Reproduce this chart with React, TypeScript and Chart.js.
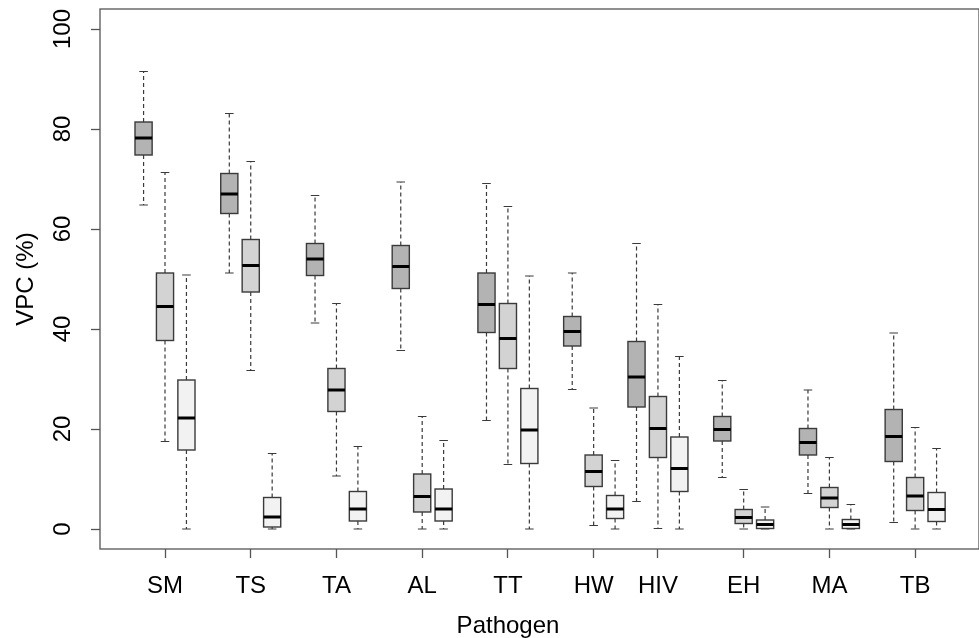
import React, { useEffect, useRef } from 'react';
import { Chart, registerables } from 'chart.js';

Chart.register(...registerables);

const FONT = '"Liberation Sans", Arial, Helvetica, sans-serif';

// Categories (pathogens) and their positions on the box axis (R-style "at")
const categories = ['SM', 'TS', 'TA', 'AL', 'TT', 'HW', 'HIV', 'EH', 'MA', 'TB'];
const groupAt = [2, 6, 10, 14, 18, 22, 25, 29, 33, 37];

// Y tick labels
const yTicks = [0, 20, 40, 60, 80, 100];

// Series 1 (dark grey boxes)
const s1Min = [64.8, 51.2, 41.2, 35.7, 21.7, 27.9, 5.5, 10.3, 7.1, 1.3];
const s1Q1 = [74.8, 63.1, 50.7, 48.1, 39.3, 36.6, 24.4, 17.6, 14.8, 13.5];
const s1Med = [78.2, 67.0, 54.0, 52.5, 44.9, 39.5, 30.4, 19.9, 17.3, 18.5];
const s1Q3 = [81.4, 71.1, 57.1, 56.7, 51.2, 42.5, 37.5, 22.5, 20.1, 23.9];
const s1Max = [91.5, 83.1, 66.7, 69.4, 69.1, 51.2, 57.1, 29.7, 27.8, 39.2];

// Series 2 (light grey boxes)
const s2Min = [17.5, 31.7, 10.6, 0, 12.9, 0.7, 0.1, 0, 0, 0];
const s2Q1 = [37.7, 47.4, 23.5, 3.4, 32.1, 8.5, 14.3, 1.1, 4.3, 3.7];
const s2Med = [44.5, 52.7, 27.8, 6.5, 38.1, 11.5, 20.1, 2.3, 6.2, 6.6];
const s2Q3 = [51.2, 57.9, 32.1, 11.0, 45.1, 14.8, 26.5, 3.9, 8.3, 10.3];
const s2Max = [71.3, 73.5, 45.1, 22.5, 64.5, 24.2, 44.9, 7.9, 14.3, 20.3];

// Series 3 (lightest boxes)
const s3Min = [0, 0, 0, 0, 0, 0, 0, 0, 0, 0];
const s3Q1 = [15.8, 0.4, 1.6, 1.6, 13.1, 2.1, 7.5, 0.1, 0.1, 1.5];
const s3Med = [22.2, 2.4, 4.0, 4.0, 19.8, 4.0, 12.1, 0.9, 0.9, 3.9];
const s3Q3 = [29.8, 6.3, 7.5, 8.0, 28.1, 6.7, 18.4, 1.8, 1.9, 7.3];
const s3Max = [50.8, 15.1, 16.5, 17.7, 50.6, 13.7, 34.5, 4.4, 4.9, 16.1];

const seriesFill = ['#b3b3b3', '#d3d3d3', '#f2f2f2'];
const seriesOffset = [-1, 0, 1];
const BOX_W = 0.8;
const CAP_W = 0.4;
const LINE = '#3a3a3a';
const FRAME = '#555555';

const boxPlugin = {
  id: 'boxDraw',
  afterDatasetsDraw(chart: any) {
    const ctx = chart.ctx;
    const xs = chart.scales.x;
    const ys = chart.scales.y;
    chart.data.datasets.forEach((ds: any) => {
      const st = ds.stats;
      ds.data.forEach((pt: any, i: number) => {
        const xc = xs.getPixelForValue(pt.x);
        const hb = xs.getPixelForValue(pt.x + BOX_W / 2) - xc;
        const hc = xs.getPixelForValue(pt.x + CAP_W / 2) - xc;
        const yMin = ys.getPixelForValue(st.min[i]);
        const yQ1 = ys.getPixelForValue(st.q1[i]);
        const yMed = ys.getPixelForValue(st.med[i]);
        const yQ3 = ys.getPixelForValue(st.q3[i]);
        const yMax = ys.getPixelForValue(st.max[i]);
        ctx.save();
        // box fill
        ctx.fillStyle = ds.boxFill;
        ctx.fillRect(xc - hb, yQ3, hb * 2, yQ1 - yQ3);
        // whiskers (dashed)
        ctx.strokeStyle = LINE;
        ctx.lineWidth = 1.2;
        ctx.setLineDash([4, 3]);
        ctx.beginPath();
        ctx.moveTo(xc, yQ3);
        ctx.lineTo(xc, yMax);
        ctx.moveTo(xc, yQ1);
        ctx.lineTo(xc, yMin);
        ctx.stroke();
        ctx.setLineDash([]);
        // staples
        ctx.beginPath();
        ctx.moveTo(xc - hc, yMax);
        ctx.lineTo(xc + hc, yMax);
        ctx.moveTo(xc - hc, yMin);
        ctx.lineTo(xc + hc, yMin);
        ctx.stroke();
        // box border
        ctx.lineWidth = 1.4;
        ctx.strokeRect(xc - hb, yQ3, hb * 2, yQ1 - yQ3);
        // median
        ctx.strokeStyle = '#000000';
        ctx.lineWidth = 3;
        ctx.beginPath();
        ctx.moveTo(xc - hb, yMed);
        ctx.lineTo(xc + hb, yMed);
        ctx.stroke();
        ctx.restore();
      });
    });
  },
  afterDraw(chart: any) {
    const ctx = chart.ctx;
    const a = chart.chartArea;
    const ys = chart.scales.y;
    ctx.save();
    // frame
    ctx.strokeStyle = FRAME;
    ctx.lineWidth = 1.3;
    ctx.strokeRect(a.left, a.top, a.right - a.left, a.bottom - a.top);
    // y tick labels rotated
    ctx.fillStyle = '#000';
    ctx.font = `24px ${FONT}`;
    ctx.textAlign = 'center';
    ctx.textBaseline = 'middle';
    ys.ticks.forEach((t: any) => {
      const y = ys.getPixelForValue(t.value);
      ctx.save();
      ctx.translate(63.5, y);
      ctx.rotate(-Math.PI / 2);
      ctx.fillText(String(t.value), 0, 0);
      ctx.restore();
    });
    // y title
    ctx.save();
    ctx.translate(26, (a.top + a.bottom) / 2);
    ctx.rotate(-Math.PI / 2);
    ctx.fillText('VPC (%)', 0, 0);
    ctx.restore();
    // x title
    ctx.textBaseline = 'alphabetic';
    ctx.fillText('Pathogen', 508, 633);
    ctx.restore();
  },
};

function makeDataset(
  offset: number,
  fill: string,
  min: number[],
  q1: number[],
  med: number[],
  q3: number[],
  max: number[]
) {
  return {
    data: groupAt.map((g, i) => ({ x: g + offset, y: med[i] })),
    stats: { min, q1, med, q3, max },
    boxFill: fill,
    pointRadius: 0,
    showLine: false,
  };
}

export default function App() {
  const ref = useRef<HTMLCanvasElement | null>(null);
  useEffect(() => {
    if (!ref.current) return;
    const chart = new Chart(ref.current, {
      type: 'scatter',
      data: {
        datasets: [
          makeDataset(seriesOffset[0], seriesFill[0], s1Min, s1Q1, s1Med, s1Q3, s1Max),
          makeDataset(seriesOffset[1], seriesFill[1], s2Min, s2Q1, s2Med, s2Q3, s2Max),
          makeDataset(seriesOffset[2], seriesFill[2], s3Min, s3Q1, s3Med, s3Q3, s3Max),
        ] as any,
      },
      options: {
        animation: false,
        responsive: true,
        maintainAspectRatio: false,
        layout: { padding: { top: 9, right: 0, left: 0, bottom: 0 } },
        plugins: { legend: { display: false }, tooltip: { enabled: false } },
        scales: {
          x: {
            type: 'linear',
            min: -1.033,
            max: 39.98,
            afterBuildTicks: (s: any) => {
              s.ticks = groupAt.map((v) => ({ value: v }));
            },
            afterFit: (s: any) => {
              s.height = 89;
            },
            ticks: {
              autoSkip: false,
              maxRotation: 0,
              minRotation: 0,
              padding: 14,
              color: '#000',
              font: { family: FONT, size: 24 },
              callback: (v: any) => categories[groupAt.indexOf(Number(v))] ?? '',
            },
            grid: { drawOnChartArea: false, drawTicks: true, tickLength: 9, tickColor: FRAME, tickWidth: 1.3 },
            border: { display: false },
          },
          y: {
            type: 'linear',
            min: -4,
            max: 104,
            afterBuildTicks: (s: any) => {
              s.ticks = yTicks.map((v) => ({ value: v }));
            },
            afterFit: (s: any) => {
              s.width = 100;
            },
            ticks: { display: false },
            grid: { drawOnChartArea: false, drawTicks: true, tickLength: 9, tickColor: FRAME, tickWidth: 1.3 },
            border: { display: false },
          },
        },
      } as any,
      plugins: [boxPlugin],
    });
    return () => chart.destroy();
  }, []);
  return (
    <div style={{ position: 'absolute', left: 0, top: 0, width: 979, height: 638, background: '#fff' }}>
      <canvas ref={ref} />
    </div>
  );
}
